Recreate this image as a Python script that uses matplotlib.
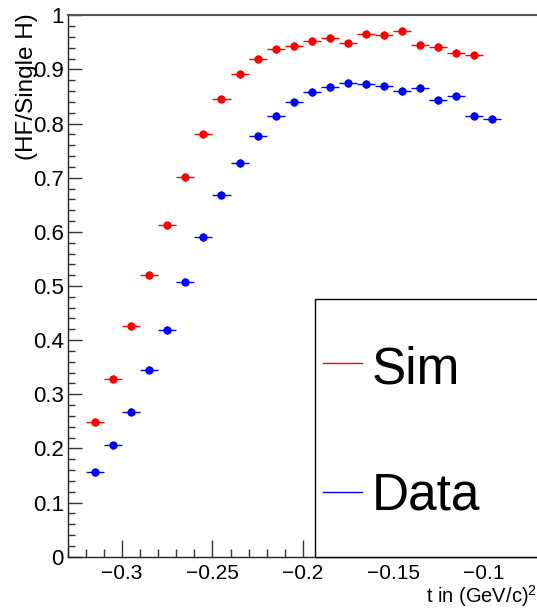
import matplotlib
matplotlib.use('Agg')
import matplotlib.pyplot as plt
import matplotlib.ticker as ticker
from matplotlib.patches import Rectangle
from matplotlib.lines import Line2D

plt.rcParams['font.family'] = ['Liberation Sans', 'DejaVu Sans']
plt.rcParams['mathtext.fontset'] = 'custom'
plt.rcParams['mathtext.rm'] = 'Liberation Sans'

W, H = 537, 610

# bin centres in t, bin half width 0.005
t_sim = [-0.315, -0.305, -0.295, -0.285, -0.275, -0.265, -0.255, -0.245,
         -0.235, -0.225, -0.215, -0.205, -0.195, -0.185, -0.175, -0.165,
         -0.155, -0.145, -0.135, -0.125, -0.115, -0.105]
ratio_sim = [0.249, 0.329, 0.4255, 0.520, 0.612, 0.701, 0.780, 0.846,
             0.892, 0.920, 0.937, 0.943, 0.9525, 0.958, 0.948, 0.966,
             0.9636, 0.9716, 0.945, 0.9415, 0.930, 0.926]

t_data = [-0.315, -0.305, -0.295, -0.285, -0.275, -0.265, -0.255, -0.245,
          -0.235, -0.225, -0.215, -0.205, -0.195, -0.185, -0.175, -0.165,
          -0.155, -0.145, -0.135, -0.125, -0.115, -0.105, -0.095]
ratio_data = [0.1565, 0.2057, 0.268, 0.3455, 0.419, 0.508, 0.590, 0.6687,
              0.727, 0.7765, 0.8146, 0.839, 0.858, 0.8676, 0.875, 0.873,
              0.8694, 0.860, 0.8657, 0.843, 0.8504, 0.8146, 0.809]

bin_half = 0.005
err_sim = 0.007
err_data = 0.007


def fx(px):
    return px / W


def fy(py):
    return 1 - py / H


fig = plt.figure(figsize=(W / 100, H / 100), dpi=100)
ax = fig.add_axes([fx(68), fy(556.7), (537.5 - 68) / W, (556.7 - 15.3) / H])

ax.errorbar(t_sim, ratio_sim, xerr=bin_half, yerr=err_sim, fmt='o',
            color='#ff0000', ms=5, elinewidth=1, capsize=0)
ax.errorbar(t_data, ratio_data, xerr=bin_half, yerr=err_data, fmt='o',
            color='#0000ff', ms=5, elinewidth=1, capsize=0)

ax.set_xlim(-0.33, -0.07)
ax.set_ylim(0, 1)

ax.xaxis.set_major_locator(ticker.MultipleLocator(0.05))
ax.xaxis.set_minor_locator(ticker.MultipleLocator(0.01))
ax.yaxis.set_major_locator(ticker.MultipleLocator(0.1))
ax.yaxis.set_minor_locator(ticker.MultipleLocator(0.02))
fmt = ticker.FuncFormatter(lambda v, p: ('%g' % round(v, 3)).replace('-', '\u2212'))
ax.xaxis.set_major_formatter(fmt)
ax.yaxis.set_major_formatter(fmt)

ax.tick_params(axis='x', which='major', direction='in', length=12, width=1,
               labelsize=15, pad=5, color='#333333')
ax.tick_params(axis='x', which='minor', direction='in', length=6, width=1,
               color='#333333')
ax.tick_params(axis='y', which='major', direction='in', length=10, width=1,
               labelsize=16, pad=3, color='#333333')
ax.tick_params(axis='y', which='minor', direction='in', length=5, width=1,
               color='#333333')

for side in ['left', 'bottom']:
    ax.spines[side].set_color('#222222')
    ax.spines[side].set_linewidth(1)
ax.spines['top'].set_color('#555555')
ax.spines['top'].set_linewidth(1.5)
ax.spines['right'].set_visible(False)

fig.text(fx(27.5), fy(13), '(HF/Single H)', rotation=90, ha='center', va='top',
         fontsize=17.5)
fig.text(fx(537), fy(603), 't in (GeV/c)$^{2}$', ha='right', va='baseline',
         fontsize=14.5)

# legend box
fig.patches.append(Rectangle((fx(315), fy(556.7)), fx(600) - fx(315),
                             fy(299.3) - fy(556.7), transform=fig.transFigure,
                             facecolor='white', edgecolor='black', lw=1, zorder=5))
for py, col, lab, base in [(362.7, '#ff0000', 'Sim', 383), (492.3, '#0000ff', 'Data', 510)]:
    fig.lines.append(Line2D([fx(323), fx(362)], [fy(py), fy(py)], color=col, lw=1,
                            transform=fig.transFigure, zorder=6))
    fig.text(fx(372), fy(base), lab, ha='left', va='baseline', fontsize=37, zorder=6)

fig.savefig('out.png', dpi=100)
